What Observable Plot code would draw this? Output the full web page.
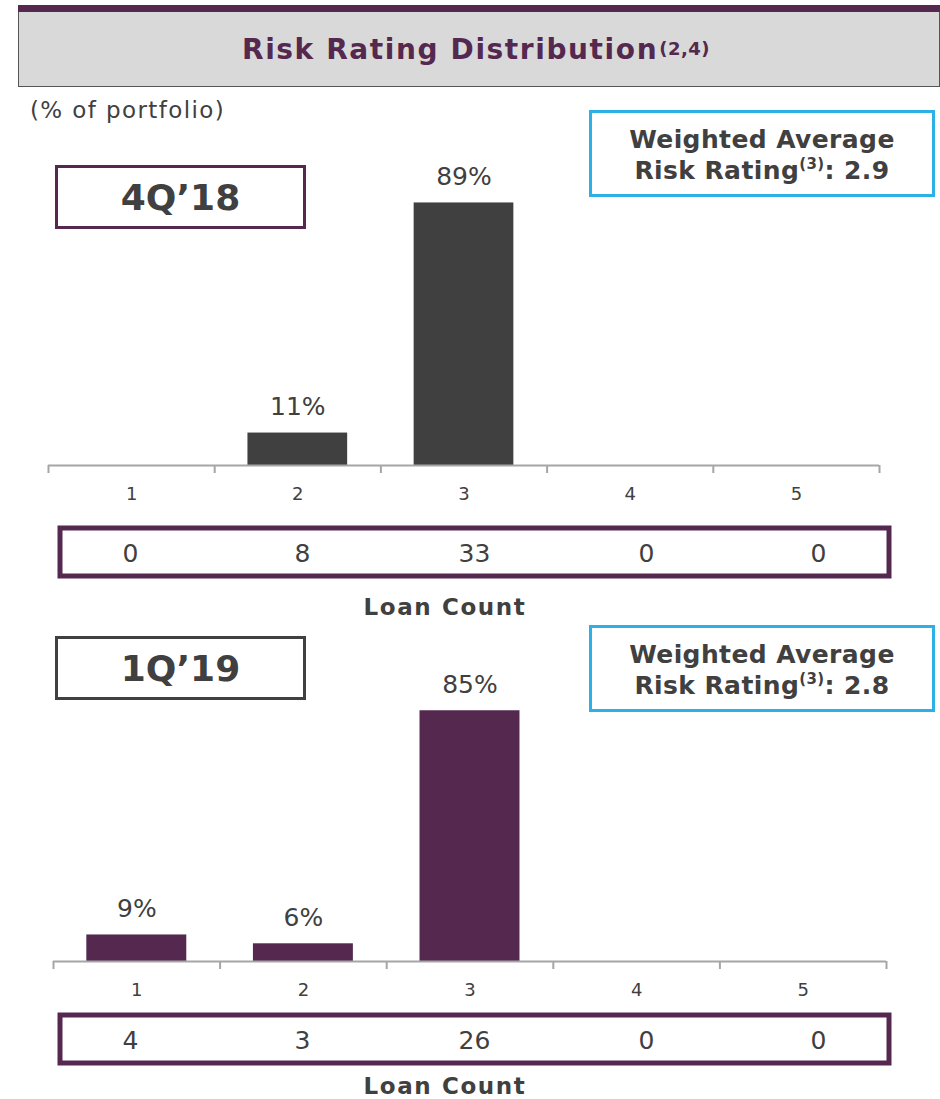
<!DOCTYPE html>
<html><head><meta charset="utf-8">
<script src="https://cdn.jsdelivr.net/npm/d3@7"></script>
<script src="https://cdn.jsdelivr.net/npm/@observablehq/plot@0.6"></script>
<style>
body{margin:0;background:#fff;font-family:"DejaVu Sans",sans-serif;color:#404040;}
#root{position:relative;width:940px;height:1099px;overflow:hidden;}
.abs{position:absolute;box-sizing:border-box;}
.titlebar{left:18px;top:5px;width:922px;height:8px;background:#54284f;}
.titlebox{left:18px;top:12px;width:922px;height:75px;background:#d9d9d9;border:1px solid #555;border-top:none;
  display:flex;align-items:center;justify-content:center;font-weight:bold;font-size:28px;letter-spacing:1.6px;color:#54284f;padding-right:6px;}
.titlebox sup{font-size:18px;vertical-align:12px;line-height:0;letter-spacing:0.5px;margin-left:1px;}
.sub{left:30px;top:97px;font-size:23px;line-height:26px;letter-spacing:1.4px;color:#404040;}
.period{width:251px;height:64px;display:flex;align-items:center;justify-content:center;font-weight:bold;font-size:36px;color:#404040;border:3px solid;}
.wavg{width:346px;height:87px;border:3px solid #2bb1e6;display:flex;flex-direction:column;align-items:center;justify-content:center;
  font-weight:bold;font-size:25px;line-height:31px;letter-spacing:0.4px;color:#404040;text-align:center;padding-top:2px;}
.wavg sup{font-size:15px;vertical-align:10px;line-height:0;}
.lc{width:940px;text-align:center;left:-25px;font-weight:bold;font-size:23px;line-height:26px;letter-spacing:1.6px;color:#404040;}
.plotwrap{left:0;}
</style></head><body><div id="root"></div>
<script>
// ---- data ----
const ratings = [1, 2, 3, 4, 5];
const periods = ["4Q’18", "1Q’19"];
const pct4Q18 = [0, 11, 89, 0, 0];
const pct1Q19 = [9, 6, 85, 0, 0];
const count4Q18 = [0, 8, 33, 0, 0];
const count1Q19 = [4, 3, 26, 0, 0];
const weightedAvg = [2.9, 2.8];
const titleText = "Risk Rating Distribution";
const subtitleText = "(% of portfolio)";

const PURPLE = "#54284f", DARK = "#404040", AXIS = "#a6a6a6";
const FONT = "'DejaVu Sans', sans-serif";
const boundaries = [...ratings.map(r => r - 0.5), ratings[ratings.length - 1] + 0.5];

function barChart(pcts, color, xRange) {
  const data = ratings.map((r, i) => ({rating: r, pct: pcts[i]}));
  const shown = data.filter(d => d.pct > 0);
  return Plot.plot({
    width: 940, height: 380,
    marginLeft: xRange[0], marginRight: 940 - xRange[1], marginTop: 30, marginBottom: 55,
    style: {fontFamily: FONT, overflow: "visible", background: "transparent"},
    x: {domain: [boundaries[0], boundaries[boundaries.length - 1]], range: xRange},
    y: {domain: [0, 100], range: [325, 30], axis: null},
    marks: [
      Plot.rectY(shown, {x1: d => d.rating - 0.3, x2: d => d.rating + 0.3, y1: 0, y2: "pct", fill: color}),
      Plot.ruleY([0], {stroke: AXIS, strokeWidth: 2}),
      Plot.axisX({ticks: boundaries, tickSize: 8, tickFormat: () => "", stroke: AXIS, strokeWidth: 2, label: null}),
      Plot.text(ratings, {x: d => d, frameAnchor: "bottom", dy: 34, text: d => String(d), fontSize: 18, fill: DARK}),
      Plot.text(shown, {x: "rating", y: "pct", text: d => d.pct + "%", dy: -26, fontSize: 25, fill: DARK, letterSpacing: 1.5})
    ]
  });
}

function countRow(counts) {
  return Plot.plot({
    width: 940, height: 60,
    marginLeft: 59.5, marginRight: 51.5, marginTop: 5.5, marginBottom: 6.5,
    style: {fontFamily: FONT, overflow: "visible", background: "transparent"},
    x: {domain: [boundaries[0], boundaries[boundaries.length - 1]], range: [44, 904], axis: null},
    marks: [
      Plot.frame({stroke: PURPLE, strokeWidth: 5}),
      Plot.text(counts, {x: (d, i) => ratings[i], frameAnchor: "middle", dy: 2, text: d => String(d), fontSize: 25, fill: DARK})
    ]
  });
}

const root = document.getElementById("root");
function add(html, cls, style) {
  const el = document.createElement("div");
  el.className = "abs " + cls;
  if (style) el.setAttribute("style", style);
  el.innerHTML = html;
  root.appendChild(el);
  return el;
}
function addNode(node, top, left) {
  const el = document.createElement("div");
  el.className = "abs plotwrap";
  el.style.top = top + "px";
  el.style.left = (left || 0) + "px";
  el.appendChild(node);
  root.appendChild(el);
}

add("", "titlebar");
add(titleText + "<sup>(2,4)</sup>", "titlebox");
add(subtitleText, "sub");

// Panel 1
addNode(barChart(pct4Q18, DARK, [48, 879]), 140);
addNode(countRow(count4Q18), 522);
add(periods[0], "period", `left:55px;top:165px;border-color:${PURPLE};`);
add(`<div>Weighted Average</div><div>Risk Rating<sup>(3)</sup>: ${weightedAvg[0].toFixed(1)}</div>`, "wavg", "left:589px;top:110px;");
add("Loan Count", "lc", "top:594px;");

// Panel 2
addNode(barChart(pct1Q19, PURPLE, [53, 886]), 636);
addNode(countRow(count1Q19), 1009);
add(periods[1], "period", `left:55px;top:636px;border-color:${DARK};`);
add(`<div>Weighted Average</div><div>Risk Rating<sup>(3)</sup>: ${weightedAvg[1].toFixed(1)}</div>`, "wavg", "left:589px;top:625px;");
add("Loan Count", "lc", "top:1073px;");
</script></body></html>
